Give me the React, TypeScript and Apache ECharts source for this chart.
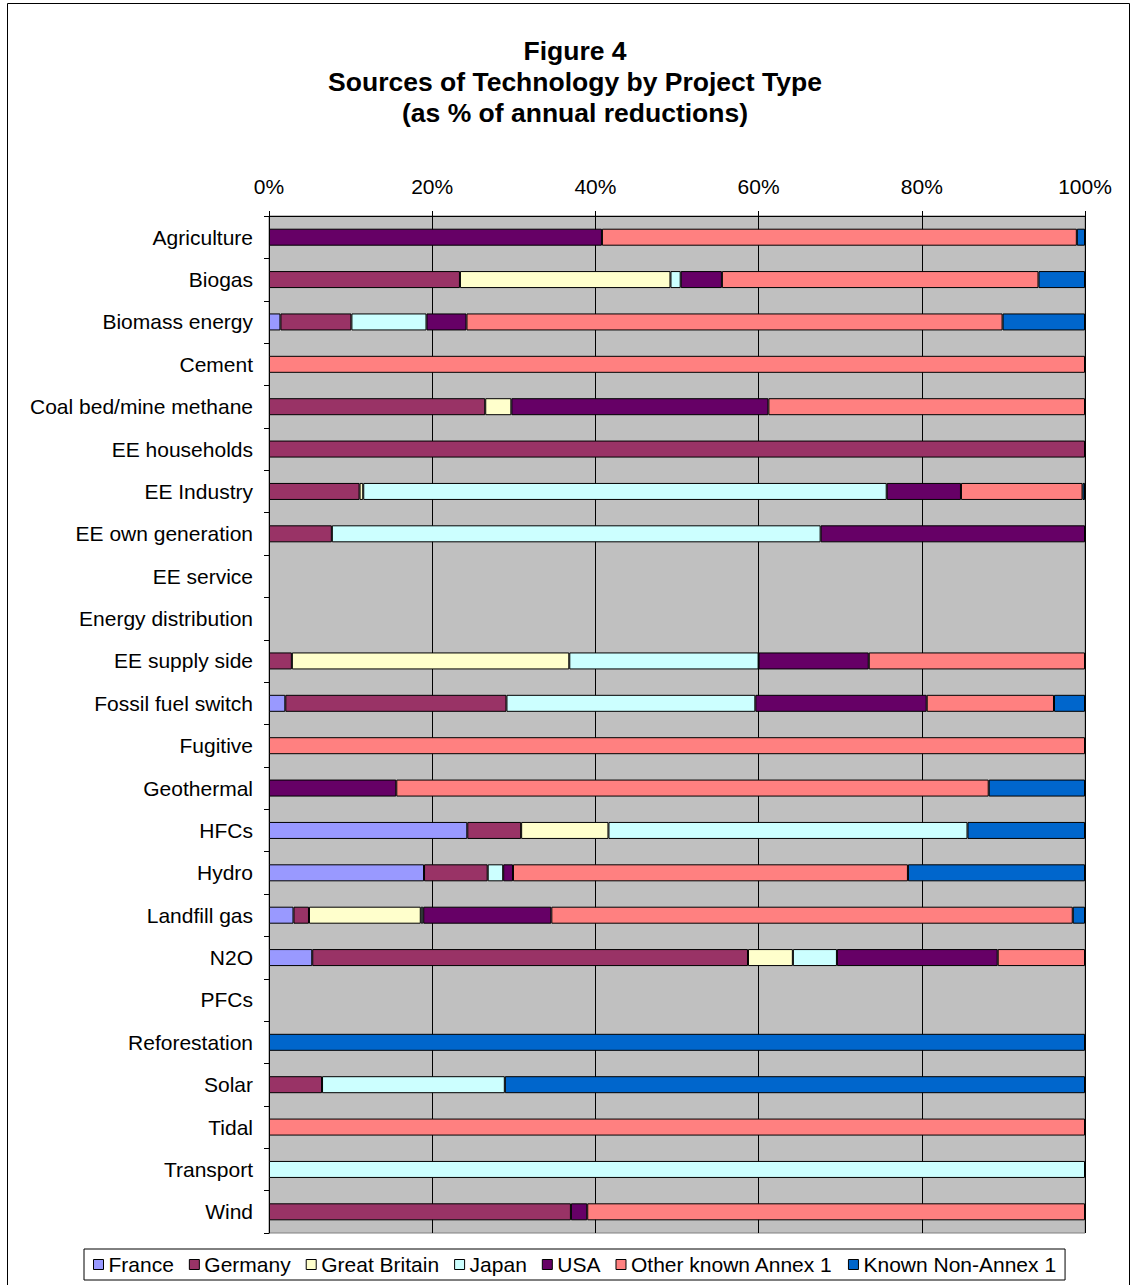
import React, { useEffect, useRef } from "react";
import * as echarts from "echarts";

const categories = [
  "Agriculture", "Biogas", "Biomass energy", "Cement", "Coal bed/mine methane",
  "EE households", "EE Industry", "EE own generation", "EE service", "Energy distribution",
  "EE supply side", "Fossil fuel switch", "Fugitive", "Geothermal", "HFCs", "Hydro",
  "Landfill gas", "N2O", "PFCs", "Reforestation", "Solar", "Tidal", "Transport", "Wind",
];

const seriesNames = ["France", "Germany", "Great Britain", "Japan", "USA", "Other known Annex 1", "Known Non-Annex 1"];
const seriesColors = ["#9999FF", "#993366", "#FFFFCC", "#CCFFFF", "#660066", "#FF8080", "#0066CC"];

const france =       [0,    0,    1.4, 0,   0,    0,   0,     0,    0, 0, 0,    2.0,  0,   0,    24.3, 19.0, 3.0,  5.3,  0, 0,   0,    0,   0,   0];
const germany =      [0,    23.4, 8.7, 0,   26.5, 100, 11.1,  7.7,  0, 0, 2.8,  27.1, 0,   0,    6.6,  7.8,  1.9,  53.4, 0, 0,   6.5,  0,   0,   37.0];
const greatBritain = [0,    25.8, 0,   0,   3.2,  0,   0.45,  0,    0, 0, 34.0, 0,    0,   0,    10.7, 0,    13.7, 5.5,  0, 0,   0,    0,   0,   0];
const japan =        [0,    1.25, 9.2, 0,   0,    0,   64.15, 59.9, 0, 0, 23.2, 30.5, 0,   0,    44.0, 1.9,  0.3,  5.4,  0, 0,   22.4, 0,   100, 0];
const usa =          [40.8, 5.05, 4.9, 0,   31.5, 0,   9.1,   32.4, 0, 0, 13.5, 21.0, 0,   15.6, 0,    1.2,  15.7, 19.7, 0, 0,   0,    0,   0,   2.0];
const otherAnnex1 =  [58.2, 38.8, 65.7, 100, 38.8, 0,  14.9,  0,    0, 0, 26.5, 15.6, 100, 72.6, 0,    48.4, 63.9, 10.7, 0, 0,   0,    100, 0,   61.0];
const nonAnnex1 =    [1.0,  5.7,  10.1, 0,   0,    0,  0.3,   0,    0, 0, 0,    3.8,  0,   11.8, 14.4, 21.7, 1.5,  0,    0, 100, 71.1, 0,   0,   0];

const seriesValues = [france, germany, greatBritain, japan, usa, otherAnnex1, nonAnnex1];
const xTicks = [0, 20, 40, 60, 80, 100];

const FONT = "'Liberation Sans', Arial, Helvetica, sans-serif";

export default function App() {
  const ref = useRef<HTMLDivElement>(null);
  useEffect(() => {
    if (!ref.current) return;
    const chart = echarts.init(ref.current, undefined, { renderer: "svg" });
    chart.setOption({
      animation: false,
      backgroundColor: "#ffffff",
      textStyle: { fontFamily: FONT },
      title: {
        text: "Figure 4\nSources of Technology by Project Type\n(as % of annual reductions)",
        left: 570,
        top: 30,
        textAlign: "center",
        textStyle: { fontFamily: FONT, fontSize: 26.5, fontWeight: "bold", color: "#000", lineHeight: 31 },
      },
      graphic: [
        {
          type: "rect",
          shape: { x: 7.5, y: 3.5, width: 1122, height: 1300 },
          style: { fill: "none", stroke: "#000", lineWidth: 1 },
          silent: true,
        },
      ],
      legend: {
        data: seriesNames,
        left: 84,
        top: 1249,
        orient: "horizontal",
        icon: "rect",
        itemWidth: 10,
        itemHeight: 10,
        itemGap: 15,
        padding: [5, 9],
        borderColor: "#000",
        borderWidth: 1,
        backgroundColor: "#fff",
        itemStyle: { borderColor: "#000", borderWidth: 1 },
        textStyle: { fontFamily: FONT, fontSize: 21, color: "#000" },
      },
      grid: {
        left: 269,
        right: 50,
        top: 216,
        bottom: 52,
        show: true,
        backgroundColor: "#C0C0C0",
        borderColor: "#808080",
        borderWidth: 1,
        containLabel: false,
      },
      xAxis: {
        type: "value",
        position: "top",
        min: xTicks[0],
        max: xTicks[xTicks.length - 1],
        interval: 20,
        axisLine: { show: true, lineStyle: { color: "#000", width: 1 } },
        axisTick: { show: true, length: 5, lineStyle: { color: "#000" } },
        axisLabel: { formatter: "{value}%", fontSize: 21, color: "#000", margin: 19, fontFamily: FONT },
        splitLine: { show: true, lineStyle: { color: "#000", width: 1 } },
      },
      yAxis: {
        type: "category",
        inverse: true,
        data: categories,
        axisLine: { show: true, lineStyle: { color: "#000", width: 1 } },
        axisTick: { show: true, length: 5, alignWithLabel: false, lineStyle: { color: "#000" } },
        axisLabel: { fontSize: 21, color: "#000", margin: 16, fontFamily: FONT },
        splitLine: { show: false },
      },
      series: seriesNames.map((name, i) => ({
        name,
        type: "bar",
        stack: "total",
        barWidth: 17,
        itemStyle: { color: seriesColors[i], borderColor: "#000", borderWidth: 1 },
        data: seriesValues[i].map((v) => (v > 0 ? v : null)),
      })),
    });
    return () => chart.dispose();
  }, []);
  return (
    <div
      ref={ref}
      style={{ position: "absolute", left: 0, top: 0, width: 1135, height: 1285 }}
    />
  );
}
